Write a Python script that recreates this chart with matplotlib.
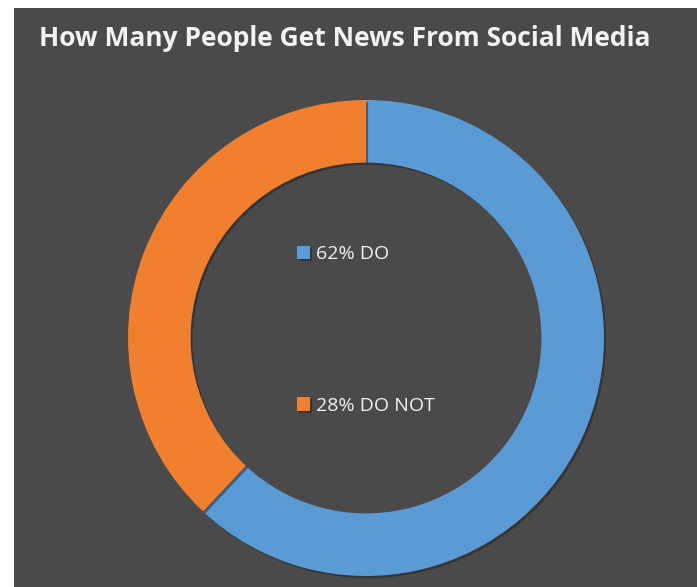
import matplotlib.pyplot as plt
from matplotlib import patheffects as pe

# data
labels = ['62% DO', '28% DO NOT']
shares = [62, 38]
colors = ['#5b9bd5', '#f07f30']

bg = '#4a4a4a'
txt = '#f2f2f2'

W, H = 697, 587
fig = plt.figure(figsize=(W / 100, H / 100), dpi=100, facecolor='white')

# gray chart area (white strip on left and top like the screenshot)
bg_ax = fig.add_axes([14 / W, 0, 1 - 14 / W, 1 - 8 / H])
bg_ax.set_facecolor(bg)
bg_ax.set_xticks([])
bg_ax.set_yticks([])
for s in bg_ax.spines.values():
    s.set_visible(False)

fig.text(345 / W, 1 - 39 / H, 'How Many People Get News From Social Media',
         ha='center', va='center', color=txt, fontsize=19, fontweight='bold',
         family='Open Sans')

# donut
cx, cy, r = 366, 338, 238
ax = fig.add_axes([(cx - r) / W, (H - cy - r) / H, 2 * r / W, 2 * r / H])
ax.set_facecolor('none')
wedges, _ = ax.pie(shares, colors=colors, startangle=90, counterclock=False,
                   radius=1, wedgeprops=dict(width=0.263, linewidth=0))
for w in wedges:
    w.set_path_effects([pe.SimplePatchShadow(offset=(1.5, -1.5), shadow_rgbFace='#222222', alpha=0.5),
                        pe.Normal()])
ax.set_xlim(-1, 1)
ax.set_ylim(-1, 1)
ax.set_aspect('equal')
ax.axis('off')

leg = ax.legend(wedges, labels, loc='center left',
                bbox_to_anchor=(287 / W, 1 - 330 / H), bbox_transform=fig.transFigure,
                frameon=False, prop={'family': 'Open Sans', 'size': 14},
                handlelength=0.7, handleheight=0.7, handletextpad=0.3,
                labelspacing=6.85, borderpad=0)
for t in leg.get_texts():
    t.set_color(txt)

fig.savefig('out.png', dpi=100, facecolor='white')
